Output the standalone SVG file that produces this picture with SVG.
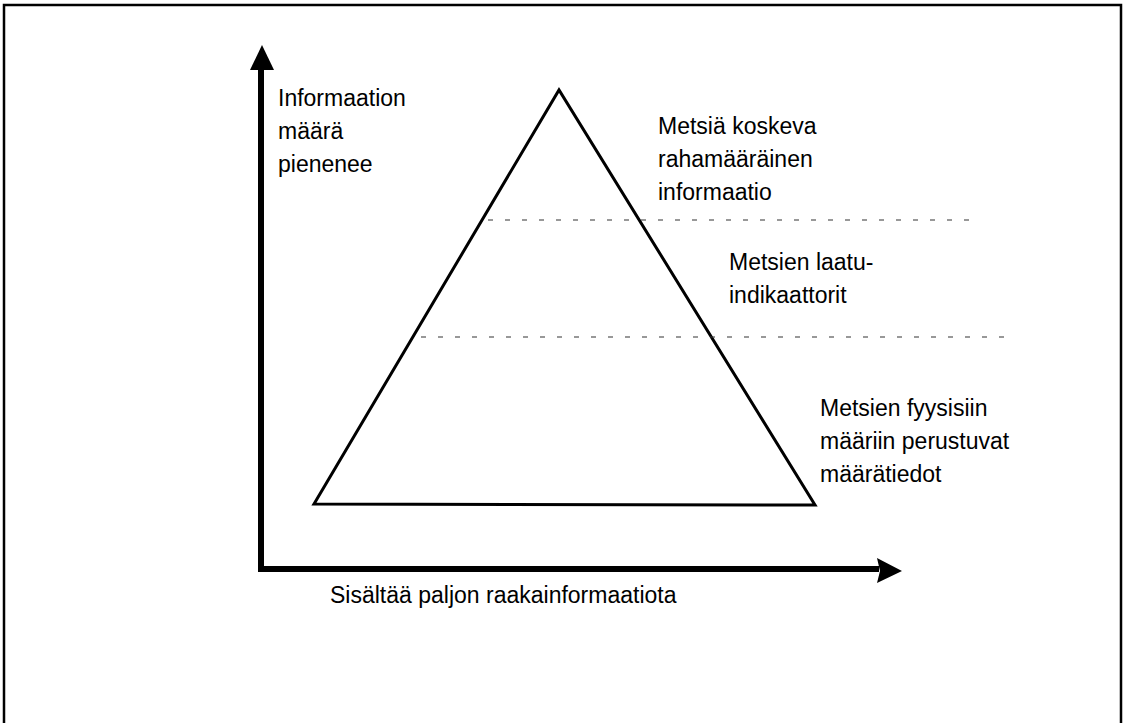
<svg xmlns="http://www.w3.org/2000/svg" width="1128" height="723" viewBox="0 0 1128 723">
  <style>
    .lbl { font-family: "Liberation Sans", Arial, sans-serif; font-size: 23px; fill: #000; }
    .axis { stroke: #000; stroke-width: 6; fill: none; }
    .tri { stroke: #000; stroke-width: 3; fill: none; stroke-linejoin: miter; }
    .dash { stroke: #333; stroke-width: 1.2; stroke-dasharray: 5 12; fill: none; }
    .frame { stroke: #000; stroke-width: 2.5; fill: none; }
  </style>
  <rect width="1128" height="723" fill="#fff"/>
  <path class="frame" d="M4,725 V5 H1121 V725"/>

  <g id="connectors">
    <path class="axis" d="M261,67 V569 H879"/>
    <polygon points="262,45 274,70 250,70" fill="#000"/>
    <polygon points="902,571 877,583 880,571 877,558" fill="#000"/>
  </g>

  <g id="pyramid">
    <polygon class="tri" points="314,504 559,90 815,505"/>
    <line class="dash" x1="488" y1="220" x2="975" y2="220"/>
    <line class="dash" x1="421" y1="337" x2="1012" y2="337"/>
  </g>

  <g id="y-label">
    <text class="lbl" x="278" y="106">Informaation</text>
    <text class="lbl" x="278" y="139">määrä</text>
    <text class="lbl" x="278" y="172">pienenee</text>
  </g>

  <g id="x-label">
    <text class="lbl" x="330" y="603">Sisältää paljon raakainformaatiota</text>
  </g>

  <g id="level-top">
    <text class="lbl" x="658" y="134">Metsiä koskeva</text>
    <text class="lbl" x="658" y="167">rahamääräinen</text>
    <text class="lbl" x="658" y="200">informaatio</text>
  </g>

  <g id="level-middle">
    <text class="lbl" x="729" y="270">Metsien laatu-</text>
    <text class="lbl" x="729" y="303">indikaattorit</text>
  </g>

  <g id="level-bottom">
    <text class="lbl" x="820" y="416">Metsien fyysisiin</text>
    <text class="lbl" x="820" y="449">määriin perustuvat</text>
    <text class="lbl" x="820" y="482">määrätiedot</text>
  </g>
</svg>
